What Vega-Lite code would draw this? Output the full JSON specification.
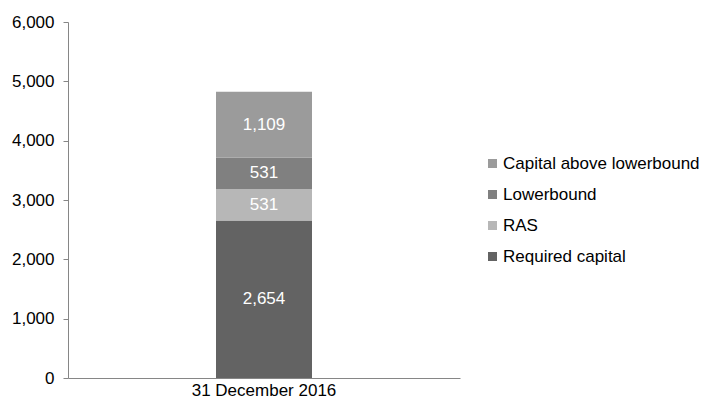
{
  "$schema": "https://vega.github.io/schema/vega-lite/v6.json",
  "width": 392,
  "height": 356,
  "autosize": "none",
  "padding": {"left": 68, "top": 22, "right": 241, "bottom": 26},
  "background": "white",
  "config": {"view": {"stroke": null}},
  "data": {"values": [
    {"date": "31 December 2016", "category": "Required capital", "value": 2654},
    {"date": "31 December 2016", "category": "RAS", "value": 531},
    {"date": "31 December 2016", "category": "Lowerbound", "value": 531},
    {"date": "31 December 2016", "category": "Capital above lowerbound", "value": 1109}
  ]},
  "transform": [
    {"stack": "value", "groupby": ["date"], "sort": [{"field": "category", "order": "descending"}], "as": ["y0", "y1"]},
    {"calculate": "(datum.y0 + datum.y1) / 2", "as": "ymid"}
  ],
  "encoding": {
    "x": {
      "field": "date", "type": "nominal",
      "scale": {"paddingInner": 0, "paddingOuter": 0},
      "axis": {"title": null, "labelAngle": 0, "ticks": false, "labelPadding": 4, "domainColor": "#868686", "labelFont": "Liberation Sans", "labelFontSize": 17, "labelColor": "#000000"}
    }
  },
  "layer": [
    {
      "mark": {"type": "bar", "size": 96},
      "encoding": {
        "y": {
          "field": "y0", "type": "quantitative",
          "scale": {"domain": [0, 6000]},
          "axis": {"title": null, "grid": false, "tickCount": 6, "format": ",.0f", "domainColor": "#868686", "tickColor": "#868686", "tickSize": 5, "labelPadding": 9, "labelFont": "Liberation Sans", "labelFontSize": 17, "labelColor": "#000000"}
        },
        "y2": {"field": "y1"},
        "color": {
          "field": "category", "type": "nominal",
          "scale": {"domain": ["Capital above lowerbound", "Lowerbound", "RAS", "Required capital"], "range": ["#9b9b9b", "#808080", "#b7b7b7", "#636363"]},
          "legend": {"title": null, "orient": "none", "legendX": 416, "legendY": 133, "padding": 0, "symbolType": "square", "symbolSize": 81, "symbolStrokeWidth": 0, "labelFont": "Liberation Sans", "labelFontSize": 17, "labelColor": "#000000", "labelLimit": 0, "rowPadding": 13, "labelOffset": 2}
        }
      }
    },
    {
      "mark": {"type": "text", "color": "white", "fontSize": 17, "font": "Liberation Sans", "baseline": "middle"},
      "encoding": {
        "y": {
          "field": "ymid", "type": "quantitative",
          "scale": {"domain": [0, 6000]},
          "axis": {"title": null, "grid": false, "tickCount": 6, "format": ",.0f", "domainColor": "#868686", "tickColor": "#868686", "tickSize": 5, "labelPadding": 9, "labelFont": "Liberation Sans", "labelFontSize": 17, "labelColor": "#000000"}
        },
        "text": {"field": "value", "type": "quantitative", "format": ","}
      }
    }
  ]
}
